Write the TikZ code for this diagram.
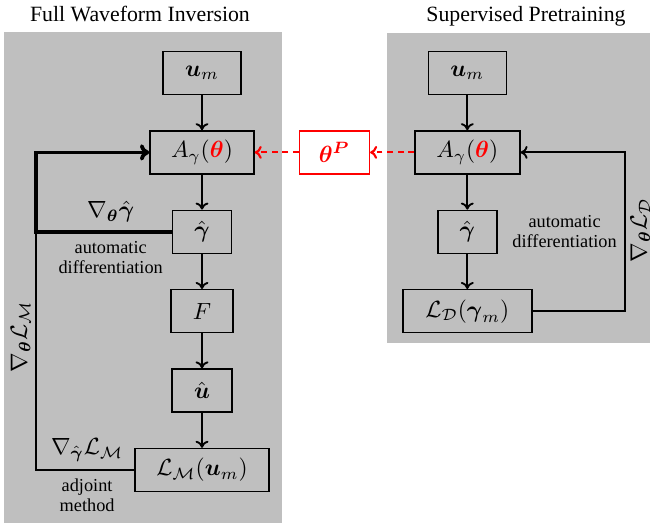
\documentclass[tikz,border=0pt]{standalone}
\usepackage[no-math]{fontspec}
\setmainfont{Liberation Serif}
\usepackage{amsmath}
\usepackage{amssymb}
\usetikzlibrary{arrows.meta, positioning}

\begin{document}
\begin{tikzpicture}[
        x=0.015cm, y=-0.015cm,
        node distance=0.525cm and 0.66cm,
        block/.style={draw, line width=0.6pt, rectangle, minimum height=0.645cm, inner sep=1pt, align=center},
        pre/.style={draw=red, fill=white, line width=0.6pt, rectangle, minimum height=0.645cm, minimum width=1.05cm, inner sep=1pt, text=red},
        panel/.style={fill=gray!50, draw=none},
        arrow/.style={-{To[length=3pt, width=5.5pt]}, line width=0.8pt},
        feedback/.style={line width=0.8pt},
        grad/.style={-{To[length=4pt, width=7pt]}, line width=1.6pt},
        transfer/.style={-{To[length=3pt, width=5.5pt]}, red, line width=0.9pt, dash pattern=on 2.5pt off 2pt},
        note/.style={font=\fontsize{7.8}{8.6}\selectfont, align=center},
        title/.style={font=\fontsize{9.3}{11}\selectfont, anchor=base}
    ]
        \useasboundingbox (0,0) rectangle (650,523);

        % Panels
        \fill[panel] (4,32) rectangle (282,523);
        \fill[panel] (387,33) rectangle (650,343);
        \node (fwi) [title] at (140,21) {Full Waveform Inversion};
        \node (sp) [title] at (526,21) {Supervised Pretraining};

        % Nodes (FWI)
        \node (um1) [block, minimum width=1.17cm] at (202,73) {$\boldsymbol{u}_m$};
        \node (A1) [block, minimum width=1.56cm, below=of um1] {$A_\gamma(\textcolor{red}{\boldsymbol{\theta}})$};
        \node (g1) [block, minimum width=0.885cm, below=of A1] {$\hat{\boldsymbol{\gamma}}$};
        \node (F1) [block, minimum width=0.93cm, below=of g1] {$F$};
        \node (u1) [block, minimum width=0.9cm, below=of F1] {$\hat{\boldsymbol{u}}$};
        \node (L1) [block, minimum width=2.01cm, below=of u1] {$\mathcal{L}_{\mathcal{M}}(\boldsymbol{u}_m)$};

        % Nodes (pretraining)
        \node (thetaP) [pre, right=of A1] {$\boldsymbol{\theta^P}$};
        \node (A2) [block, minimum width=1.575cm, right=of thetaP] {$A_\gamma(\textcolor{red}{\boldsymbol{\theta}})$};
        \node (um2) [block, minimum width=1.17cm, above=of A2] {$\boldsymbol{u}_m$};
        \node (g2) [block, minimum width=0.885cm, below=of A2] {$\hat{\boldsymbol{\gamma}}$};
        \node (L2) [block, minimum width=1.935cm, below=of g2] {$\mathcal{L}_{\mathcal{D}}(\boldsymbol{\gamma}_m)$};
        \node (ad2) [note, right=0.1cm of g2] {automatic\\differentiation};

        \coordinate (lcorner) at (36,0);
        \coordinate (rcorner) at (625,0);

        % Paths
        \draw [arrow] (um1) -- (A1);
        \draw [arrow] (A1) -- (g1);
        \draw [arrow] (g1) -- (F1);
        \draw [arrow] (F1) -- (u1);
        \draw [arrow] (u1) -- (L1);
        \draw [arrow] (um2) -- (A2);
        \draw [arrow] (A2) -- (g2);
        \draw [arrow] (g2) -- (L2);

        % Gradient loops
        \draw [grad] (g1.west) -- (g1.west -| lcorner)
            node[pos=0.45, above] {$\nabla_{\boldsymbol{\theta}}\hat{\boldsymbol{\gamma}}$}
            node[pos=0.45, below, note] {automatic\\differentiation}
            |- (A1.west);
        \draw [feedback] (L1.west) -| (g1.west -| lcorner)
            node[pos=0.24, above] {$\nabla_{\hat{\boldsymbol{\gamma}}}\mathcal{L}_{\mathcal{M}}$}
            node[pos=0.24, below, note] {adjoint\\method}
            node[pos=0.78, rotate=90, anchor=south, inner sep=2pt] {$\nabla_{\boldsymbol{\theta}}\mathcal{L}_{\mathcal{M}}$};
        \draw [arrow] (L2.east) -- (L2.east -| rcorner) |- (A2.east)
            node[pos=0.255, rotate=90, anchor=north, inner sep=2pt] {$\nabla_{\boldsymbol{\theta}}\mathcal{L}_{\mathcal{D}}$};

        % Transfer of pretrained weights
        \draw [transfer] (A2.west) -- (thetaP.east);
        \draw [transfer] (thetaP.west) -- (A1.east);
    \end{tikzpicture}
\end{document}
